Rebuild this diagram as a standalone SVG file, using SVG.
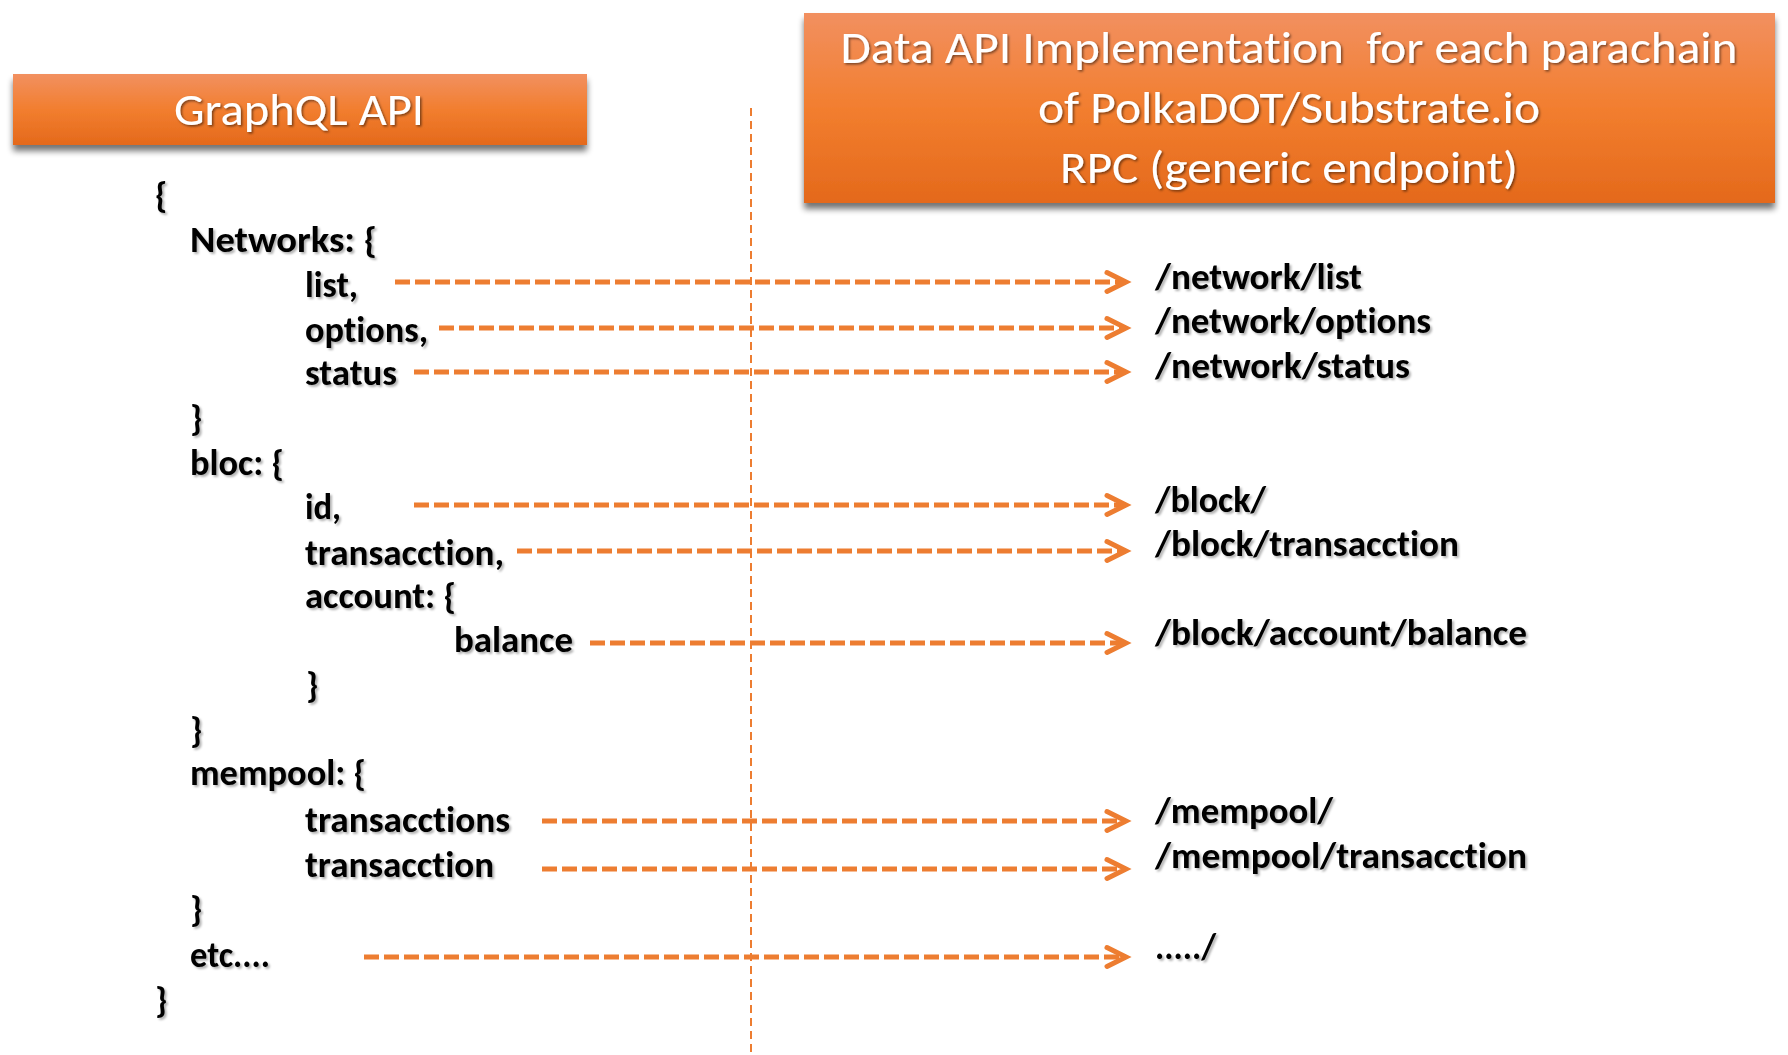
<svg xmlns="http://www.w3.org/2000/svg" width="1788" height="1055" viewBox="0 0 1788 1055">
<style>
.code{font-family:Carlito,Calibri,Lato,"Liberation Sans",sans-serif;font-weight:bold;font-size:36px;fill:#000;font-variant-ligatures:none;filter:url(#tsh)}
.ttl{font-family:Carlito,Calibri,Lato,"Liberation Sans",sans-serif;font-size:46px;fill:#fff;white-space:pre;font-variant-ligatures:none;filter:url(#tsh2)}
.arr{fill:none;stroke:#ED7D31;stroke-width:5;stroke-dasharray:15 5;marker-end:url(#chev)}
.box{fill:url(#og);filter:url(#bsh)}
</style>
<defs>
<linearGradient id="og" x1="0" y1="0" x2="0" y2="1">
<stop offset="0" stop-color="#F29060"/>
<stop offset="0.5" stop-color="#F27E2F"/>
<stop offset="1" stop-color="#E4691B"/>
</linearGradient>
<filter id="bsh" x="-5%" y="-10%" width="110%" height="130%">
<feGaussianBlur in="SourceAlpha" stdDeviation="3"/>
<feOffset dx="0" dy="6" result="b"/>
<feComponentTransfer><feFuncA type="linear" slope="0.55"/></feComponentTransfer>
<feMerge><feMergeNode/><feMergeNode in="SourceGraphic"/></feMerge>
</filter>
<filter id="tsh" x="-10%" y="-20%" width="120%" height="150%">
<feDropShadow dx="2" dy="2" stdDeviation="1" flood-color="#000" flood-opacity="0.3"/>
</filter>
<filter id="tsh2" x="-10%" y="-20%" width="120%" height="150%">
<feDropShadow dx="1.5" dy="1.5" stdDeviation="1" flood-color="#000" flood-opacity="0.5"/>
</filter>
<marker id="chev" markerUnits="userSpaceOnUse" markerWidth="40" markerHeight="40" viewBox="-30 -20 40 40" refX="-6" refY="0" orient="auto">
<path d="M-25 -9.5 L-6 0 L-25 9.5" fill="none" stroke="#ED7D31" stroke-width="5" stroke-dasharray="none" stroke-linejoin="miter" stroke-linecap="round"/>
</marker>
</defs>
<rect width="1788" height="1055" fill="#fff"/>

<g id="graphql-api">
<rect class="box" x="13" y="74" width="574" height="71"/>
<text class="ttl" x="299" y="125" text-anchor="middle" textLength="250" lengthAdjust="spacingAndGlyphs">GraphQL API</text>
</g>

<g id="data-api">
<rect class="box" x="804" y="13" width="971" height="190"/>
<text class="ttl" x="1289" y="63" text-anchor="middle" textLength="897" lengthAdjust="spacingAndGlyphs">Data API Implementation  for each parachain</text>
<text class="ttl" x="1289" y="123" text-anchor="middle" textLength="502" lengthAdjust="spacingAndGlyphs">of PolkaDOT/Substrate.io</text>
<text class="ttl" x="1289" y="183" text-anchor="middle" textLength="458" lengthAdjust="spacingAndGlyphs">RPC (generic endpoint)</text>
</g>

<g id="divider">
<line x1="751" y1="108" x2="751" y2="1053" stroke="#ED7D31" stroke-width="2" stroke-dasharray="8 5"/>
</g>

<g id="graphql-query">
<text class="code" x="155" y="207">{</text>
<text class="code" x="190" y="252" textLength="187" lengthAdjust="spacingAndGlyphs">Networks: {</text>
<text class="code" x="305" y="297" textLength="53" lengthAdjust="spacingAndGlyphs">list,</text>
<text class="code" x="305" y="342" textLength="123" lengthAdjust="spacingAndGlyphs">options,</text>
<text class="code" x="305" y="385" textLength="92" lengthAdjust="spacingAndGlyphs">status</text>
<text class="code" x="190" y="430">}</text>
<text class="code" x="190" y="475" textLength="94" lengthAdjust="spacingAndGlyphs">bloc: {</text>
<text class="code" x="305" y="519" textLength="36" lengthAdjust="spacingAndGlyphs">id,</text>
<text class="code" x="305" y="565" textLength="199" lengthAdjust="spacingAndGlyphs">transacction,</text>
<text class="code" x="305" y="608" textLength="151" lengthAdjust="spacingAndGlyphs">account: {</text>
<text class="code" x="454" y="652" textLength="119" lengthAdjust="spacingAndGlyphs">balance</text>
<text class="code" x="306" y="697">}</text>
<text class="code" x="190" y="742">}</text>
<text class="code" x="190" y="785" textLength="176" lengthAdjust="spacingAndGlyphs">mempool: {</text>
<text class="code" x="305" y="832" textLength="205" lengthAdjust="spacingAndGlyphs">transacctions</text>
<text class="code" x="305" y="877" textLength="189" lengthAdjust="spacingAndGlyphs">transacction</text>
<text class="code" x="190" y="921">}</text>
<text class="code" x="190" y="967" textLength="80" lengthAdjust="spacingAndGlyphs">etc....</text>
<text class="code" x="155" y="1012">}</text>
</g>

<g id="endpoints">
<text class="code" x="1155" y="289" textLength="207" lengthAdjust="spacingAndGlyphs">/network/list</text>
<text class="code" x="1155" y="333" textLength="276" lengthAdjust="spacingAndGlyphs">/network/options</text>
<text class="code" x="1155" y="378" textLength="255" lengthAdjust="spacingAndGlyphs">/network/status</text>
<text class="code" x="1155" y="512" textLength="111" lengthAdjust="spacingAndGlyphs">/block/</text>
<text class="code" x="1155" y="556" textLength="304" lengthAdjust="spacingAndGlyphs">/block/transacction</text>
<text class="code" x="1155" y="645" textLength="372" lengthAdjust="spacingAndGlyphs">/block/account/balance</text>
<text class="code" x="1155" y="823" textLength="178" lengthAdjust="spacingAndGlyphs">/mempool/</text>
<text class="code" x="1155" y="868" textLength="372" lengthAdjust="spacingAndGlyphs">/mempool/transacction</text>
<text class="code" x="1155" y="959" textLength="61" lengthAdjust="spacingAndGlyphs">...../</text>
</g>

<g id="connectors">
<line class="arr" x1="395" y1="282" x2="1126" y2="282"/>
<line class="arr" x1="439" y1="328" x2="1126" y2="328"/>
<line class="arr" x1="414" y1="372" x2="1126" y2="372"/>
<line class="arr" x1="414" y1="505" x2="1126" y2="505"/>
<line class="arr" x1="517" y1="551" x2="1126" y2="551"/>
<line class="arr" x1="590" y1="643" x2="1126" y2="643"/>
<line class="arr" x1="542" y1="821" x2="1126" y2="821"/>
<line class="arr" x1="542" y1="869" x2="1126" y2="869"/>
<line class="arr" x1="364" y1="957" x2="1126" y2="957"/>
</g>
</svg>
